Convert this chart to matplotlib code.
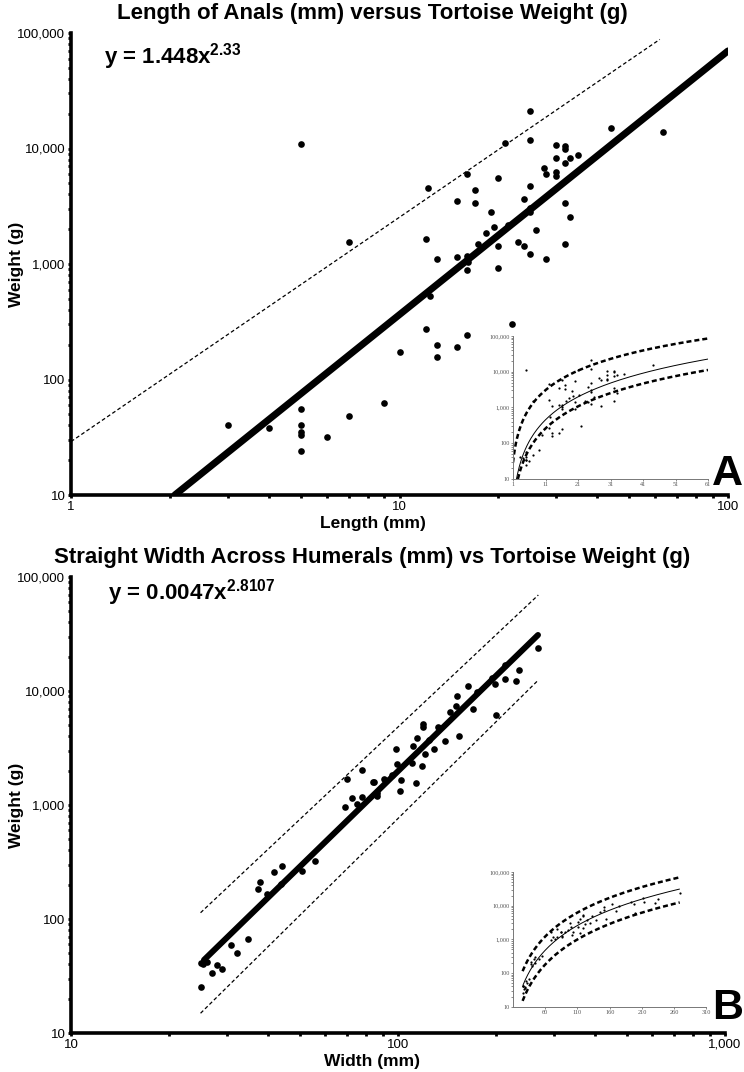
import numpy as np
import matplotlib
matplotlib.use('Agg')
import matplotlib.pyplot as plt
from matplotlib.ticker import FuncFormatter, LogLocator, FixedLocator, NullFormatter

plt.rcParams['font.family'] = ['Liberation Sans', 'DejaVu Sans']
plt.rcParams['mathtext.default'] = 'regular'

# ---------------- Panel A: length of anals vs weight ----------------
anal_len = [25, 21, 25, 44, 63.5, 16, 12.2, 20, 17, 15, 17, 19, 24, 25, 25, 25,
            27.5, 28, 30, 32, 32, 30, 33, 32, 35, 30, 30, 32, 33, 32, 26, 23,
            24, 25, 28, 20, 20, 21.4, 19.4, 18.3, 17.3, 12, 13, 15, 16, 16.2,
            16, 12.4, 5, 7, 12, 10, 13, 13, 15, 16, 22, 9, 3, 4, 5, 5, 5, 5, 5, 6, 7]
anal_wt = [21250, 11200, 11800, 15000, 13800, 6050, 4520, 5590, 4370, 3530, 3350,
           2840, 3650, 4730, 3030, 2800, 6740, 6050, 10660, 10500, 9960, 8270,
           8270, 7540, 8840, 6220, 5780, 3400, 2570, 1500, 1980, 1550, 1440, 1230,
           1100, 1430, 930, 2180, 2090, 1870, 1500, 1640, 1100, 1160, 1170, 1050,
           880, 528, 10940, 1560, 274, 173, 198, 156, 190, 244, 304, 63, 40, 38,
           56, 40, 35, 33, 24, 32, 48]
# fitted line and bands as drawn (end points)
fitA_x, fitA_y = [2.07, 100], [10, 70000]
upA_x, upA_y = [1, 62], [29, 88000]
lowA_x, lowA_y = [2.5, 61], [10, 11200]

# ---------------- Panel B: width across humerals vs weight ----------------
hum_w = [24.9, 24.9, 25.3, 26.0, 26.9, 27.9, 28.9, 30.9, 32.1, 34.8, 37.4, 37.9,
         39.7, 41.8, 44.1, 43.8, 50.8, 55.7, 69.7, 77.5, 68.9, 72.5, 77.5, 84.5,
         74.8, 86.1, 268.6, 235, 229.5, 212.9, 212.4, 198, 193.8, 199.4, 164,
         151.2, 150.5, 169.2, 174.8, 144.2, 154, 139.5, 132.8, 129.1, 119, 119,
         121.2, 118.2, 114.3, 111.4, 124.6, 110.4, 98.6, 99.5, 113.5, 102.3,
         101.4, 90.6, 95.6, 84, 86.1]
hum_wt = [25.5, 41.4, 40.3, 42, 33.4, 39.7, 36.4, 58.8, 50.3, 66.4, 183, 210,
          167, 258, 293, 203, 264, 325, 1690, 2030, 955, 1145, 1175, 1600, 1020,
          1267, 23840, 15280, 12300, 12670, 16900, 11590, 13090, 6160, 11060,
          9100, 7430, 6950, 9800, 6580, 4030, 3640, 4860, 3080, 5140, 4860, 2800,
          2185, 3890, 3310, 3715, 2350, 3120, 2300, 1570, 1650, 1327, 1700, 1833,
          1600, 1200]
fitB_x, fitB_y = [25.5, 268], [43.7, 31000]
upB_x, upB_y = [24.9, 268.6], [113.5, 69500]
lowB_x, lowB_y = [24.9, 268.6], [14.9, 12470]


def power_curve(xs, ys, x):
    k = np.log(ys[1] / ys[0]) / np.log(xs[1] / xs[0])
    return ys[0] * (x / xs[0]) ** k


comma = FuncFormatter(lambda v, p: f'{v:,.0f}')

fig = plt.figure(figsize=(7.44, 10.72), dpi=100)


def main_axes(rect, xlim, xlabel):
    ax = fig.add_axes(rect)
    ax.set_xscale('log')
    ax.set_yscale('log')
    ax.set_xlim(*xlim)
    ax.set_ylim(10, 100000)
    for s in ['top', 'right']:
        ax.spines[s].set_visible(False)
    for s in ['left', 'bottom']:
        ax.spines[s].set_linewidth(2.6)
    ax.xaxis.set_major_formatter(comma)
    ax.yaxis.set_major_formatter(comma)
    ax.xaxis.set_minor_formatter(NullFormatter())
    ax.yaxis.set_minor_formatter(NullFormatter())
    ax.yaxis.set_major_locator(LogLocator(base=10, numticks=10))
    ax.tick_params(which='both', direction='out', length=2, width=2, labelsize=9.5, pad=2)
    ax.set_xlabel(xlabel, fontsize=12.5, weight='bold')
    ax.xaxis.set_label_coords(0.46, -0.045)
    ax.set_ylabel('Weight (g)', fontsize=12.5, weight='bold')
    ax.yaxis.set_label_coords(-0.072, 0.5)
    return ax


def inset_axes(rect, xlim, xticks):
    ia = fig.add_axes(rect)
    ia.patch.set_alpha(0)
    ia.set_yscale('log')
    ia.set_xlim(*xlim)
    ia.set_ylim(10, 100000)
    for s in ['top', 'right']:
        ia.spines[s].set_visible(False)
    for s in ['left', 'bottom']:
        ia.spines[s].set_linewidth(0.7)
        ia.spines[s].set_color('#777777')
    ia.xaxis.set_major_locator(FixedLocator(xticks))
    ia.yaxis.set_major_locator(LogLocator(base=10, numticks=10))
    ia.yaxis.set_major_formatter(comma)
    ia.yaxis.set_minor_formatter(NullFormatter())
    ia.tick_params(which='both', length=1.5, width=0.6, color='#777777',
                   labelsize=4.5, labelcolor='#555555', pad=1)
    for t in ia.get_xticklabels() + ia.get_yticklabels():
        t.set_family('Liberation Serif')
    return ia


# ================= Panel A =================
axA = main_axes([71 / 744, 1 - 495 / 1072, 657 / 744, 462 / 1072], (1, 100), 'Length (mm)')
axA.plot(upA_x, upA_y, color='k', lw=0.9, dashes=(3, 2))
axA.plot(fitA_x, fitA_y, color='k', lw=5, solid_capstyle='round')
axA.plot(anal_len, anal_wt, 'o', color='k', ms=4.8, mew=0, zorder=3)
axA.text(0.05, 0.95, 'y = 1.448x$^{2.33}$', transform=axA.transAxes,
         fontsize=16, weight='bold', va='center')

insA = inset_axes([513 / 744, 1 - 479 / 1072, 195 / 744, 143 / 1072], (1, 61),
                  [1, 11, 21, 31, 41, 51, 61])
insA.set_xticklabels(['1', '11', '21', '31', '41', '51', '61'], family='Liberation Serif')
xa = np.linspace(upA_x[0], 61, 200)
insA.plot(xa, power_curve(upA_x, upA_y, xa), color='k', lw=1.8, dashes=(2, 1.2))
xa = np.linspace(lowA_x[0], lowA_x[1], 200)
insA.plot(xa, power_curve(lowA_x, lowA_y, xa), color='k', lw=1.8, dashes=(2, 1.2))
xa = np.linspace(fitA_x[0], 61, 200)
insA.plot(xa, power_curve(fitA_x, fitA_y, xa), color='k', lw=0.7)
insA.plot(anal_len, anal_wt, 'o', color='k', ms=1.6, mew=0)

fig.text(372 / 744, 1 - 14 / 1072, 'Length of Anals (mm) versus Tortoise Weight (g)',
         ha='center', va='center', fontsize=16, weight='bold')
fig.text(0.999, 1 - 494 / 1072, 'A', ha='right', va='bottom', fontsize=31, weight='bold')

# ================= Panel B =================
axB = main_axes([71 / 744, 1 - 1033 / 1072, 654 / 744, 456 / 1072], (10, 1000), 'Width (mm)')
axB.plot(upB_x, upB_y, color='k', lw=0.9, dashes=(3, 2))
axB.plot(lowB_x, lowB_y, color='k', lw=0.9, dashes=(3, 2))
axB.plot(fitB_x, fitB_y, color='k', lw=4.3, solid_capstyle='round')
axB.plot(hum_w, hum_wt, 'o', color='k', ms=4.8, mew=0, zorder=3)
axB.text(0.057, 0.965, 'y = 0.0047x$^{2.8107}$', transform=axB.transAxes,
         fontsize=16, weight='bold', va='center')

insB = inset_axes([513 / 744, 1 - 1006.7 / 1072, 193.4 / 744, 134.7 / 1072], (10, 310),
                  [60, 110, 160, 210, 260, 310])
insB.set_xticklabels(['60', '110', '160', '210', '260', '310'], family='Liberation Serif')
xb = np.linspace(upB_x[0], upB_x[1], 200)
insB.plot(xb, power_curve(upB_x, upB_y, xb), color='k', lw=1.8, dashes=(2, 1.2))
insB.plot(xb, power_curve(lowB_x, lowB_y, xb), color='k', lw=1.8, dashes=(2, 1.2))
xb = np.linspace(fitB_x[0], fitB_x[1], 200)
insB.plot(xb, power_curve(fitB_x, fitB_y, xb), color='k', lw=0.7)
insB.plot(hum_w, hum_wt, 'o', color='k', ms=1.6, mew=0)

fig.text(372 / 744, 1 - 558 / 1072, 'Straight Width Across Humerals (mm) vs Tortoise Weight (g)',
         ha='center', va='center', fontsize=16, weight='bold')
fig.text(0.999, 1 - 1028 / 1072, 'B', ha='right', va='bottom', fontsize=31, weight='bold')

fig.savefig('out.png', dpi=100, facecolor='white')
